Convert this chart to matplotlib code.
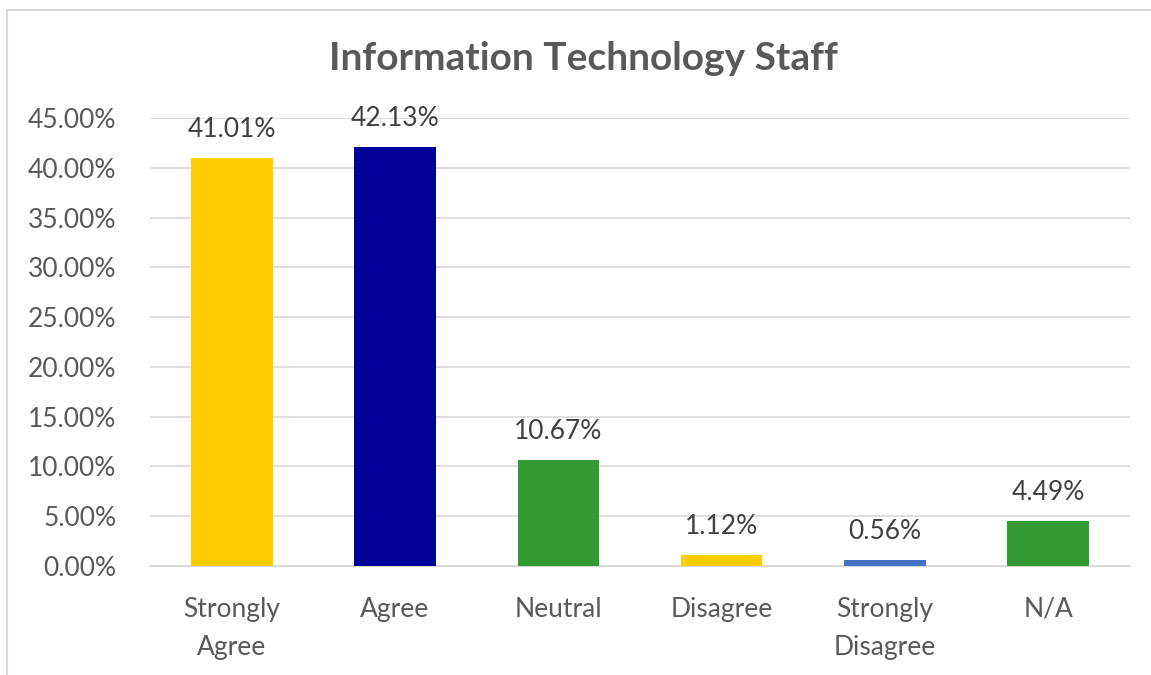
import matplotlib
matplotlib.use("Agg")
import matplotlib.pyplot as plt
from matplotlib.patches import Rectangle
from matplotlib.ticker import FuncFormatter

categories = ["Strongly\nAgree", "Agree", "Neutral", "Disagree", "Strongly\nDisagree", "N/A"]
values = [41.01, 42.13, 10.67, 1.12, 0.56, 4.49]
colors = ["#ffcc00", "#000099", "#339933", "#ffcc00", "#4472c4", "#339933"]
y_ticks = [0, 5, 10, 15, 20, 25, 30, 35, 40, 45]

W, H = 1151, 675
plt.rcParams["font.family"] = ["Lato", "DejaVu Sans"]
text_color = "#595959"

fig = plt.figure(figsize=(W / 100, H / 100), dpi=100)
ax = fig.add_axes([150 / W, 1 - 566 / H, (1130 - 150) / W, (566 - 118) / H])

x = range(len(categories))
ax.bar(x, values, width=0.5, color=colors, zorder=3)
for xi, v in zip(x, values):
    ax.text(xi, v + 1.6, f"{v:.2f}%", ha="center", va="bottom",
            fontsize=19, color="#404040", zorder=4)

ax.set_xlim(-0.5, len(categories) - 0.5)
ax.set_ylim(0, 45)
ax.set_yticks(y_ticks)
ax.yaxis.set_major_formatter(FuncFormatter(lambda v, _: f"{v:.2f}%"))
ax.set_xticks(list(x))
ax.set_xticklabels(categories, linespacing=1.65)
ax.tick_params(axis="both", length=0, labelsize=19, colors=text_color)
ax.tick_params(axis="x", pad=22)
ax.tick_params(axis="y", pad=24)
ax.grid(axis="y", color="#d9d9d9", linewidth=1.2, zorder=0)
for s in ["top", "right", "left"]:
    ax.spines[s].set_visible(False)
ax.spines["bottom"].set_color("#d9d9d9")
ax.spines["bottom"].set_linewidth(1.5)

fig.text(583 / W, 1 - 58 / H, "Information Technology Staff", ha="center", va="center",
         fontsize=28, fontweight="bold", color=text_color)

fig.patches.append(Rectangle((7 / W, -0.05), 1.1, 1 - 10 / H + 0.05,
                             transform=fig.transFigure, fill=False,
                             edgecolor="#d9d9d9", linewidth=1.5))

fig.savefig("out.png", dpi=100)
